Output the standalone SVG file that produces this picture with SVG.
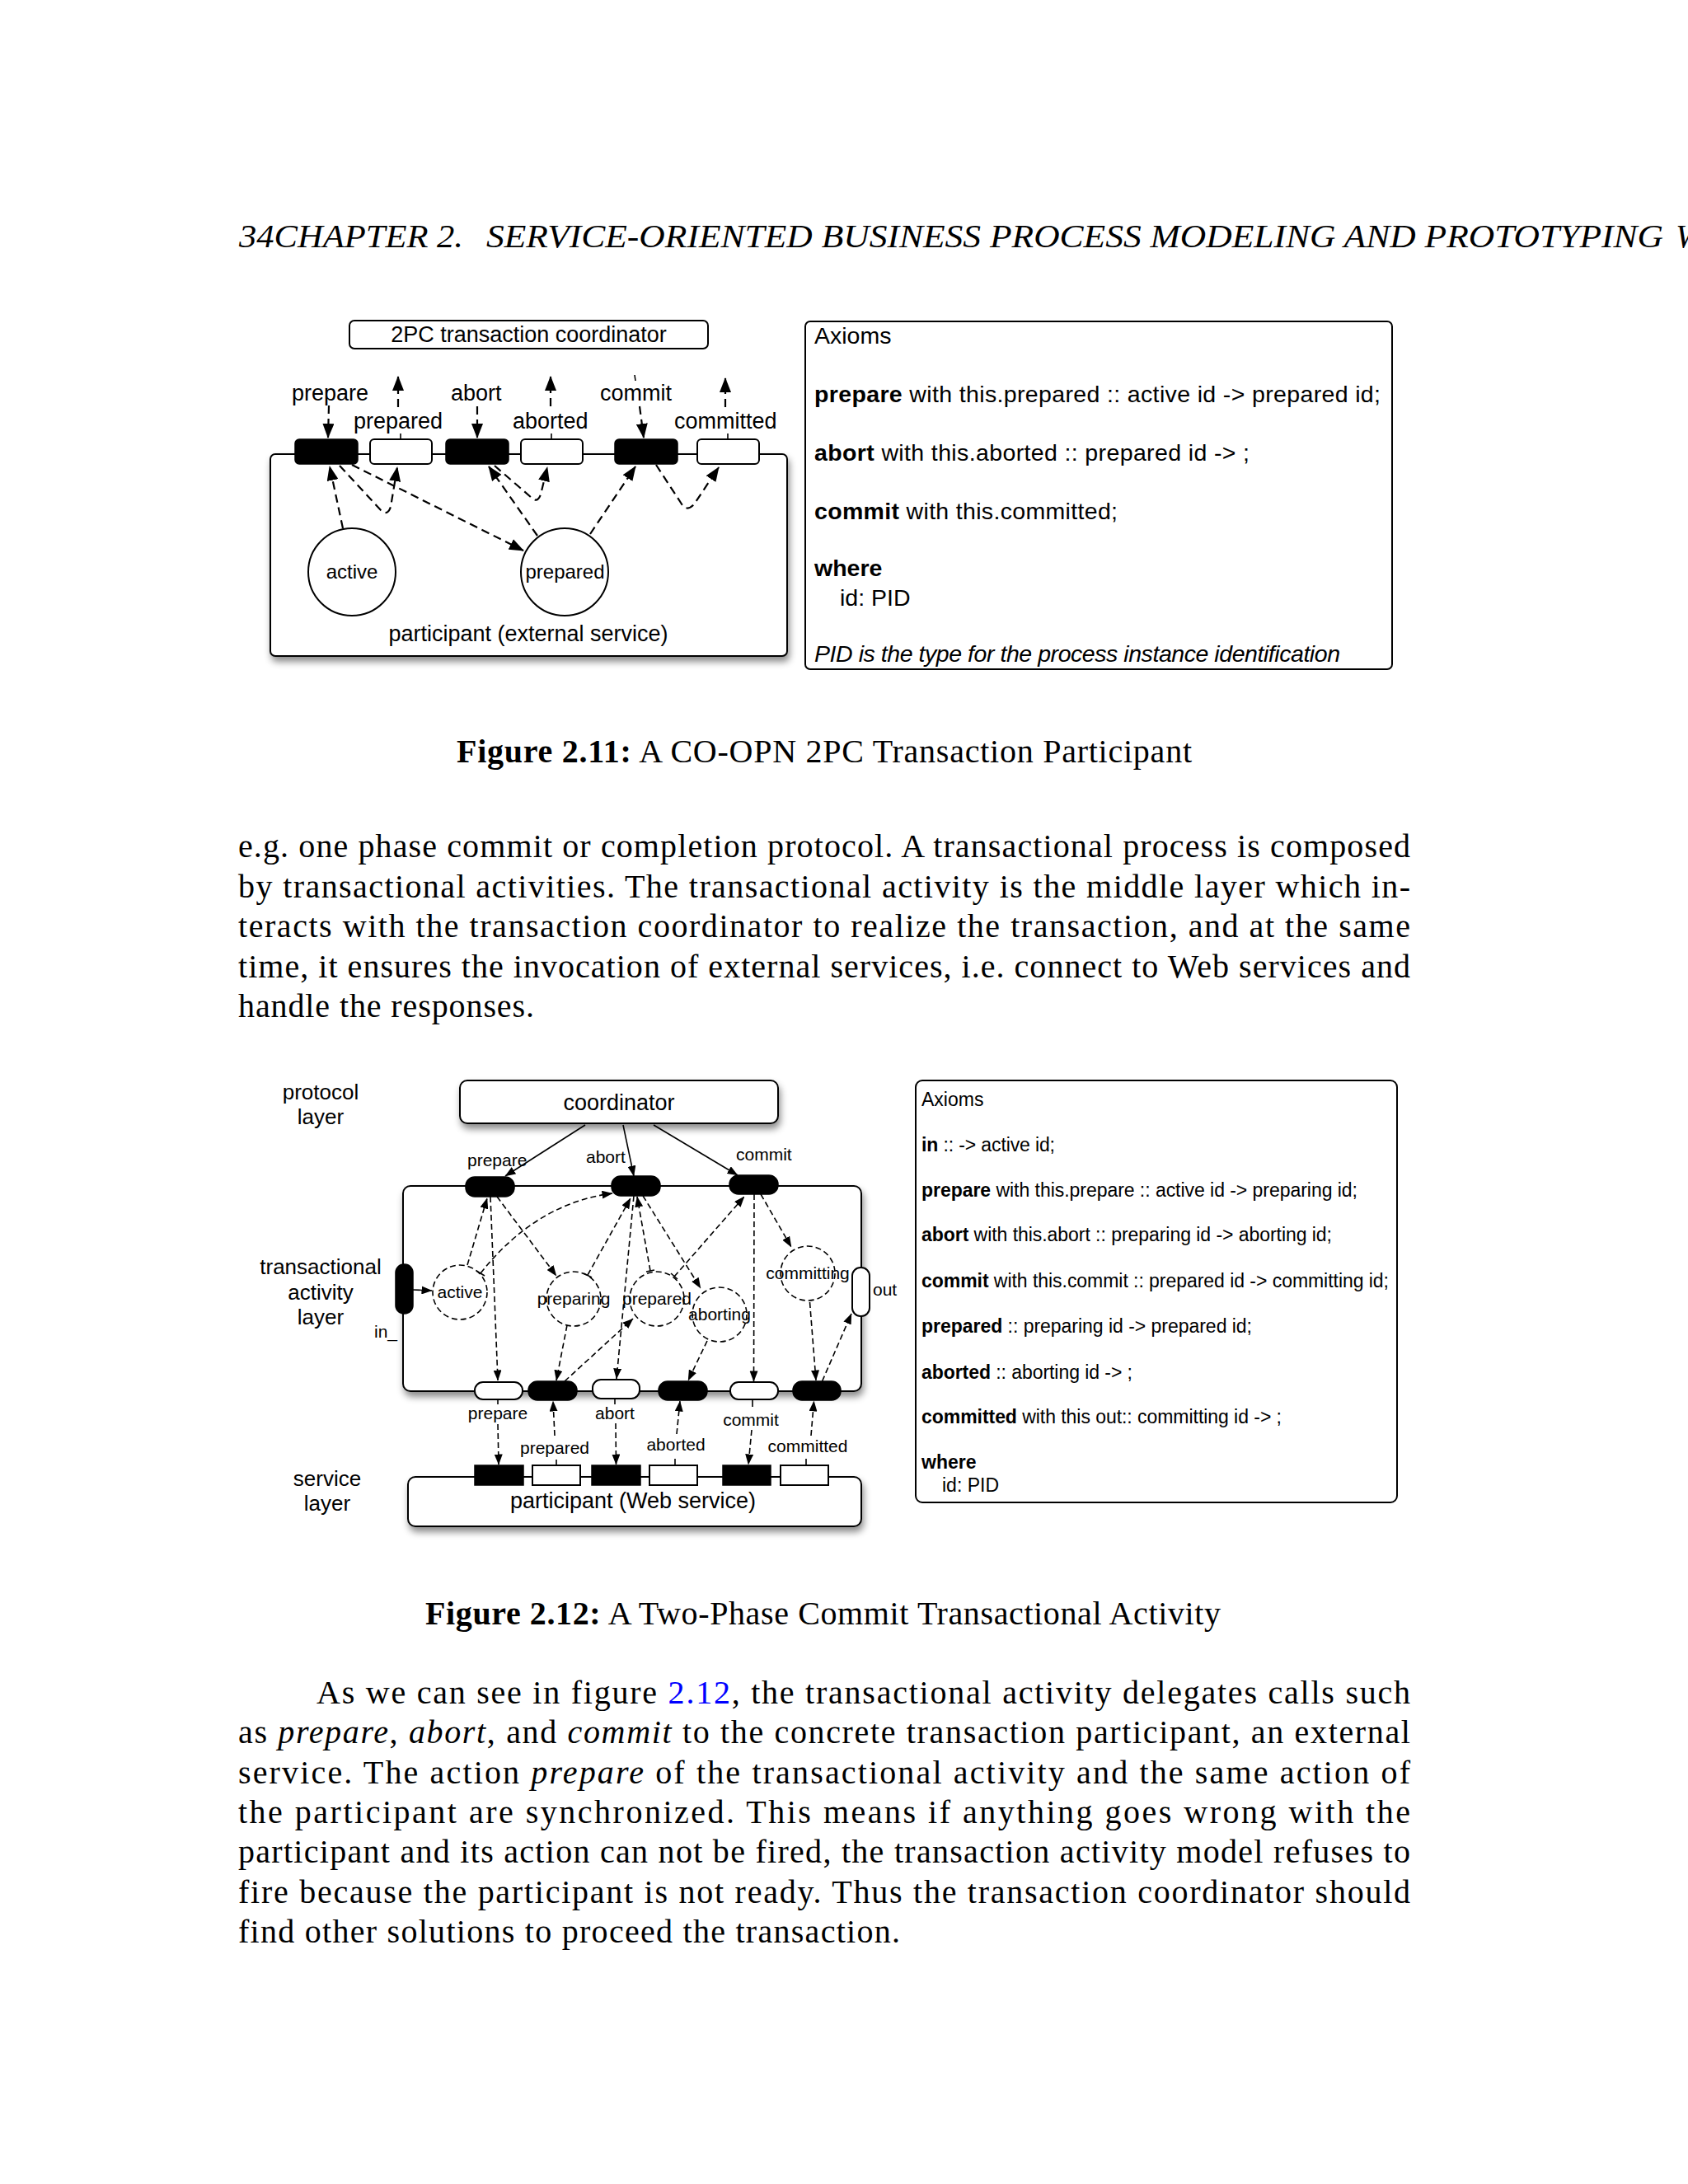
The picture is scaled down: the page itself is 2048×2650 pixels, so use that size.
<svg xmlns="http://www.w3.org/2000/svg" width="2048" height="2650" viewBox="0 0 2048 2650">
<defs>
<style>
.s{font-family:"Liberation Sans",Arial,sans-serif;fill:#000}
.r{font-family:"Liberation Serif","Times New Roman",serif;fill:#000;font-size:40px}
.box{fill:#fff;stroke:#000;stroke-width:2}
.blk{fill:#000;stroke:#000;stroke-width:1.5}
.wht{fill:#fff;stroke:#000;stroke-width:2}
.d1{fill:none;stroke:#000;stroke-width:2.2;stroke-dasharray:10 6}
.d2{fill:none;stroke:#000;stroke-width:1.6;stroke-dasharray:7 4}
.ln{fill:none;stroke:#000;stroke-width:1.6}
.dc{fill:#fff;stroke:#000;stroke-width:1.6;stroke-dasharray:7 4}
.mid{text-anchor:middle}
</style>
<filter id="sh" x="-10%" y="-20%" width="125%" height="150%">
<feDropShadow dx="2" dy="6" stdDeviation="4" flood-color="#000" flood-opacity="0.45"/>
</filter>
<marker id="a1" viewBox="0 0 18 14" markerWidth="18" markerHeight="14" refX="17" refY="7" orient="auto" markerUnits="userSpaceOnUse"><path d="M0,0 L18,7 L0,14 z" fill="#000"/></marker>
<marker id="a2" viewBox="0 0 13 10" markerWidth="13" markerHeight="10" refX="12.5" refY="5" orient="auto" markerUnits="userSpaceOnUse"><path d="M0,0 L13,5 L0,10 z" fill="#000"/></marker>
</defs>
<rect width="2048" height="2650" fill="#fff"/>

<!-- page header -->
<g id="header">
<text class="r" x="290" y="300" font-style="italic" textLength="272" lengthAdjust="spacingAndGlyphs">34CHAPTER 2.</text>
<text class="r" x="590" y="300" font-style="italic" textLength="1428" lengthAdjust="spacingAndGlyphs">SERVICE-ORIENTED BUSINESS PROCESS MODELING AND PROTOTYPING</text>
<text class="r" x="2033" y="300" font-style="italic">W</text>
</g>

<!-- ================= Figure 2.11 ================= -->
<g id="f11-coordinator">
<rect class="box" x="424" y="389" width="435" height="34" rx="6"/>
<text class="s mid" x="641.5" y="415" font-size="27">2PC transaction coordinator</text>
</g>
<g id="f11-participant">
<rect class="box" x="328" y="551" width="627" height="245" rx="6" filter="url(#sh)"/>
<text class="s mid" x="641" y="778" font-size="27">participant (external service)</text>
</g>
<g id="f11-active">
<circle class="box" cx="427" cy="694" r="53"/>
<text class="s mid" x="427" y="702" font-size="24">active</text>
</g>
<g id="f11-prepared-place">
<circle class="box" cx="685" cy="694" r="53"/>
<text class="s mid" x="685.5" y="702" font-size="24">prepared</text>
</g>

<g id="f11-connectors">
<line class="d1" x1="399" y1="492" x2="398" y2="531" marker-end="url(#a1)"/>
<line class="d1" x1="483" y1="494" x2="483" y2="457" marker-end="url(#a1)"/>
<line class="d1" x1="579" y1="493" x2="579" y2="531" marker-end="url(#a1)"/>
<line class="d1" x1="668" y1="493" x2="668" y2="457" marker-end="url(#a1)"/>
<line class="ln" x1="770" y1="455" x2="771" y2="462" stroke-width="2"/>
<line class="d1" x1="776" y1="493" x2="781" y2="531" marker-end="url(#a1)"/>
<line class="d1" x1="880" y1="494" x2="880" y2="459" marker-end="url(#a1)"/>
<line class="ln" x1="486" y1="526" x2="486" y2="533" stroke-width="2"/>
<line class="ln" x1="669" y1="526" x2="669" y2="533" stroke-width="2"/>
<line class="ln" x1="883" y1="526" x2="883" y2="533" stroke-width="2"/>
<line class="d1" x1="416" y1="641" x2="400" y2="566" marker-end="url(#a1)"/>
<path class="d1" d="M412,565 L462,619 Q470,627 474,615 L482,567" marker-end="url(#a1)"/>
<line class="d1" x1="427" y1="564" x2="635" y2="668" marker-end="url(#a1)"/>
<line class="d1" x1="652" y1="650" x2="593" y2="566" marker-end="url(#a1)"/>
<path class="d1" d="M600,565 L645,604 Q652,611 656,600 L664,567" marker-end="url(#a1)"/>
<line class="d1" x1="716" y1="648" x2="771" y2="566" marker-end="url(#a1)"/>
<path class="d1" d="M796,564 L826,610 Q833,622 842,612 L872,567" marker-end="url(#a1)"/>
</g>

<g id="f11-port-prepare"><rect class="blk" x="358" y="533" width="76" height="30" rx="5"/><text class="s" x="354" y="486" font-size="27">prepare</text></g>
<g id="f11-port-prepared"><rect class="wht" x="449" y="533" width="75" height="30" rx="5"/><text class="s" x="429" y="520" font-size="27">prepared</text></g>
<g id="f11-port-abort"><rect class="blk" x="541" y="533" width="76" height="30" rx="5"/><text class="s" x="547" y="486" font-size="27">abort</text></g>
<g id="f11-port-aborted"><rect class="wht" x="632" y="533" width="75" height="30" rx="5"/><text class="s" x="622" y="520" font-size="27">aborted</text></g>
<g id="f11-port-commit"><rect class="blk" x="746" y="533" width="76" height="30" rx="5"/><text class="s" x="728" y="486" font-size="27">commit</text></g>
<g id="f11-port-committed"><rect class="wht" x="846" y="533" width="75" height="30" rx="5"/><text class="s" x="818" y="520" font-size="27">committed</text></g>

<g id="f11-axioms">
<rect class="box" x="977" y="390" width="712" height="422" rx="6"/>
<text class="s" x="988" y="417" font-size="28.5">Axioms</text>
<text class="s" x="988" y="488" font-size="28.5" textLength="687"><tspan font-weight="bold">prepare</tspan> with this.prepared :: active id -&gt; prepared id;</text>
<text class="s" x="988" y="559" font-size="28.5" textLength="528"><tspan font-weight="bold">abort</tspan> with this.aborted :: prepared id -&gt; ;</text>
<text class="s" x="988" y="630" font-size="28.5" textLength="368"><tspan font-weight="bold">commit</tspan> with this.committed;</text>
<text class="s" x="988" y="699" font-size="28.5" font-weight="bold">where</text>
<text class="s" x="1019" y="735" font-size="28.5">id: PID</text>
<text class="s" x="988" y="803" font-size="28.5" font-style="italic" textLength="638">PID is the type for the process instance identification</text>
</g>

<g id="caption-2-11">
<text class="r" x="554" y="925" textLength="892"><tspan font-weight="bold">Figure 2.11:</tspan> A CO-OPN 2PC Transaction Participant</text>
</g>

<g id="paragraph-1">
<text class="r" x="289" y="1040" textLength="1422" lengthAdjust="spacing">e.g. one phase commit or completion protocol. A transactional process is composed</text>
<text class="r" x="289" y="1088.5" textLength="1422" lengthAdjust="spacing">by transactional activities. The transactional activity is the middle layer which in-</text>
<text class="r" x="289" y="1137" textLength="1422" lengthAdjust="spacing">teracts with the transaction coordinator to realize the transaction, and at the same</text>
<text class="r" x="289" y="1185.5" textLength="1422" lengthAdjust="spacing">time, it ensures the invocation of external services, i.e. connect to Web services and</text>
<text class="r" x="289" y="1234" textLength="359" lengthAdjust="spacing">handle the responses.</text>
</g>

<!-- ================= Figure 2.12 ================= -->
<g id="f12-layer-labels">
<text class="s mid" x="389" y="1334" font-size="26">protocol</text>
<text class="s mid" x="389" y="1364" font-size="26">layer</text>
<text class="s mid" x="389" y="1546" font-size="26">transactional</text>
<text class="s mid" x="389" y="1577" font-size="26">activity</text>
<text class="s mid" x="389" y="1607" font-size="26">layer</text>
<text class="s mid" x="397" y="1803" font-size="26">service</text>
<text class="s mid" x="397" y="1833" font-size="26">layer</text>
</g>

<g id="f12-coordinator">
<rect class="box" x="558" y="1311" width="386" height="52" rx="9" filter="url(#sh)"/>
<text class="s mid" x="751" y="1347" font-size="27">coordinator</text>
</g>
<g id="f12-transactional-activity">
<rect class="box" x="489" y="1439" width="556" height="249" rx="9" filter="url(#sh)"/>
</g>
<g id="f12-participant">
<rect class="box" x="495" y="1792" width="550" height="60" rx="9" filter="url(#sh)"/>
<text class="s mid" x="768" y="1830" font-size="27">participant (Web service)</text>
</g>

<g id="f12-place-active"><circle class="dc" cx="558" cy="1568" r="33"/><text class="s mid" x="558" y="1575" font-size="21">active</text></g>
<g id="f12-place-preparing"><circle class="dc" cx="696" cy="1576" r="33"/><text class="s mid" x="696" y="1583" font-size="21">preparing</text></g>
<g id="f12-place-prepared"><circle class="dc" cx="797" cy="1576" r="33"/><text class="s mid" x="797" y="1583" font-size="21">prepared</text></g>
<g id="f12-place-aborting"><circle class="dc" cx="873" cy="1595" r="33"/><text class="s mid" x="873" y="1602" font-size="21">aborting</text></g>
<g id="f12-place-committing"><circle class="dc" cx="980" cy="1545" r="33"/><text class="s mid" x="980" y="1552" font-size="21">committing</text></g>

<g id="f12-connectors">
<line class="ln" x1="710" y1="1365" x2="613" y2="1427" marker-end="url(#a2)"/>
<line class="ln" x1="756" y1="1365" x2="769" y2="1427" marker-end="url(#a2)"/>
<line class="ln" x1="793" y1="1365" x2="895" y2="1426" marker-end="url(#a2)"/>
<line class="ln" x1="501" y1="1565" x2="524" y2="1566" marker-end="url(#a2)"/>
<line class="d2" x1="567" y1="1535" x2="591" y2="1454" marker-end="url(#a2)"/>
<line class="d2" x1="595" y1="1452" x2="604" y2="1675" marker-end="url(#a2)"/>
<path class="d2" d="M583,1545 Q650,1460 743,1448" marker-end="url(#a2)"/>
<line class="d2" x1="603" y1="1452" x2="675" y2="1548" marker-end="url(#a2)"/>
<line class="d2" x1="713" y1="1547" x2="765" y2="1454" marker-end="url(#a2)"/>
<line class="d2" x1="769" y1="1451" x2="748" y2="1673" marker-end="url(#a2)"/>
<line class="d2" x1="789" y1="1542" x2="773" y2="1452" marker-end="url(#a2)"/>
<line class="d2" x1="780" y1="1451" x2="850" y2="1563" marker-end="url(#a2)"/>
<line class="d2" x1="818" y1="1549" x2="903" y2="1452" marker-end="url(#a2)"/>
<line class="d2" x1="915" y1="1449" x2="914.5" y2="1676" marker-end="url(#a2)"/>
<line class="d2" x1="923" y1="1449" x2="960" y2="1513" marker-end="url(#a2)"/>
<line class="d2" x1="982.5" y1="1580" x2="990" y2="1675" marker-end="url(#a2)"/>
<line class="d2" x1="997.5" y1="1676" x2="1033" y2="1594" marker-end="url(#a2)"/>
<line class="d2" x1="688" y1="1608" x2="675" y2="1675" marker-end="url(#a2)"/>
<line class="d2" x1="685" y1="1676" x2="768" y2="1600" marker-end="url(#a2)"/>
<line class="d2" x1="858" y1="1627" x2="835" y2="1675" marker-end="url(#a2)"/>
<line class="ln" x1="578" y1="1542" x2="588" y2="1548"/>
<line class="ln" x1="708" y1="1545" x2="718" y2="1550"/>
<line class="ln" x1="784" y1="1543" x2="794" y2="1541"/>
<line class="ln" x1="814" y1="1545" x2="822" y2="1552"/>
<line class="ln" x1="604" y1="1698" x2="604" y2="1704"/>
<line class="d2" x1="604" y1="1728" x2="605" y2="1777" marker-end="url(#a2)"/>
<line class="d2" x1="673" y1="1742" x2="671" y2="1700" marker-end="url(#a2)"/>
<line class="ln" x1="675" y1="1771" x2="675" y2="1778"/>
<line class="ln" x1="746" y1="1697" x2="746" y2="1704"/>
<line class="d2" x1="747" y1="1727" x2="747.5" y2="1777" marker-end="url(#a2)"/>
<line class="d2" x1="821" y1="1740" x2="825" y2="1700" marker-end="url(#a2)"/>
<line class="ln" x1="819" y1="1770" x2="819" y2="1778"/>
<line class="ln" x1="913" y1="1698" x2="913" y2="1707"/>
<line class="d2" x1="912" y1="1735" x2="908" y2="1777" marker-end="url(#a2)"/>
<line class="d2" x1="984" y1="1742" x2="987.5" y2="1700" marker-end="url(#a2)"/>
<line class="ln" x1="978" y1="1770" x2="978" y2="1778"/>
</g>

<g id="f12-port-in"><rect class="blk" x="480" y="1534" width="21" height="60" rx="10"/><text class="s" x="454" y="1623" font-size="21">in_</text></g>
<g id="f12-port-out"><rect class="wht" x="1034" y="1538" width="21" height="59" rx="10"/><text class="s" x="1059" y="1572" font-size="21">out</text></g>

<g id="f12-top-prepare"><rect class="blk" x="565" y="1428" width="59" height="24" rx="11"/><text class="s" x="567" y="1415" font-size="21">prepare</text></g>
<g id="f12-top-abort"><rect class="blk" x="742" y="1427" width="59" height="24" rx="11"/><text class="s" x="711" y="1411" font-size="21">abort</text></g>
<g id="f12-top-commit"><rect class="blk" x="885" y="1426" width="59" height="23" rx="11"/><text class="s" x="893" y="1408" font-size="21">commit</text></g>

<g id="f12-out-prepare"><rect class="wht" x="576" y="1677" width="58" height="21" rx="10"/><text class="s mid" x="604" y="1722" font-size="21">prepare</text></g>
<g id="f12-out-prepared"><rect class="blk" x="641" y="1676" width="59" height="23" rx="11"/><text class="s mid" x="673" y="1764" font-size="21">prepared</text></g>
<g id="f12-out-abort"><rect class="wht" x="719" y="1674" width="57" height="23" rx="10"/><text class="s mid" x="746" y="1722" font-size="21">abort</text></g>
<g id="f12-out-aborted"><rect class="blk" x="799" y="1676" width="59" height="23" rx="11"/><text class="s mid" x="820" y="1760" font-size="21">aborted</text></g>
<g id="f12-out-commit"><rect class="wht" x="886" y="1677" width="58" height="21" rx="10"/><text class="s mid" x="911" y="1730" font-size="21">commit</text></g>
<g id="f12-out-committed"><rect class="blk" x="962" y="1676" width="58" height="23" rx="11"/><text class="s mid" x="980" y="1762" font-size="21">committed</text></g>

<g id="f12-service-ports">
<rect class="blk" x="576" y="1778" width="59" height="24"/>
<rect class="wht" x="646" y="1778" width="58" height="24" stroke-width="1.6"/>
<rect class="blk" x="718" y="1778" width="59" height="24"/>
<rect class="wht" x="788" y="1778" width="58" height="24" stroke-width="1.6"/>
<rect class="blk" x="877" y="1778" width="58" height="24"/>
<rect class="wht" x="947" y="1778" width="58" height="24" stroke-width="1.6"/>
</g>

<g id="f12-axioms">
<rect class="box" x="1111" y="1311" width="584" height="512" rx="8" stroke-width="1.6"/>
<text class="s" x="1118" y="1342" font-size="23">Axioms</text>
<text class="s" x="1118" y="1397" font-size="23" textLength="162"><tspan font-weight="bold">in</tspan> :: -&gt; active id;</text>
<text class="s" x="1118" y="1452" font-size="23" textLength="529"><tspan font-weight="bold">prepare</tspan> with this.prepare :: active id -&gt; preparing id;</text>
<text class="s" x="1118" y="1506" font-size="23" textLength="498"><tspan font-weight="bold">abort</tspan> with this.abort :: preparing id -&gt; aborting id;</text>
<text class="s" x="1118" y="1562" font-size="23" textLength="567"><tspan font-weight="bold">commit</tspan> with this.commit :: prepared id -&gt; committing id;</text>
<text class="s" x="1118" y="1617" font-size="23" textLength="401"><tspan font-weight="bold">prepared</tspan> :: preparing id -&gt; prepared id;</text>
<text class="s" x="1118" y="1673" font-size="23" textLength="256"><tspan font-weight="bold">aborted</tspan> :: aborting id -&gt; ;</text>
<text class="s" x="1118" y="1727" font-size="23" textLength="437"><tspan font-weight="bold">committed</tspan> with this out:: committing id -&gt; ;</text>
<text class="s" x="1118" y="1782" font-size="23" font-weight="bold">where</text>
<text class="s" x="1143" y="1810" font-size="23">id: PID</text>
</g>

<g id="caption-2-12">
<text class="r" x="516" y="1971" textLength="965"><tspan font-weight="bold">Figure 2.12:</tspan> A Two-Phase Commit Transactional Activity</text>
</g>

<g id="paragraph-2">
<text class="r" x="384" y="2067" textLength="1327" lengthAdjust="spacing">As we can see in figure <tspan fill="#0000ff">2.12</tspan>, the transactional activity delegates calls such</text>
<text class="r" x="289" y="2115" textLength="1422" lengthAdjust="spacing">as <tspan font-style="italic">prepare</tspan>, <tspan font-style="italic">abort</tspan>, and <tspan font-style="italic">commit</tspan> to the concrete transaction participant, an external</text>
<text class="r" x="289" y="2163.5" textLength="1422" lengthAdjust="spacing">service.  The action <tspan font-style="italic">prepare</tspan> of the transactional activity and the same action of</text>
<text class="r" x="289" y="2212" textLength="1422" lengthAdjust="spacing">the participant are synchronized.  This means if anything goes wrong with the</text>
<text class="r" x="289" y="2260" textLength="1422" lengthAdjust="spacing">participant and its action can not be fired, the transaction activity model refuses to</text>
<text class="r" x="289" y="2308.5" textLength="1422" lengthAdjust="spacing">fire because the participant is not ready.  Thus the transaction coordinator should</text>
<text class="r" x="289" y="2357" textLength="803" lengthAdjust="spacing">find other solutions to proceed the transaction.</text>
</g>
</svg>
